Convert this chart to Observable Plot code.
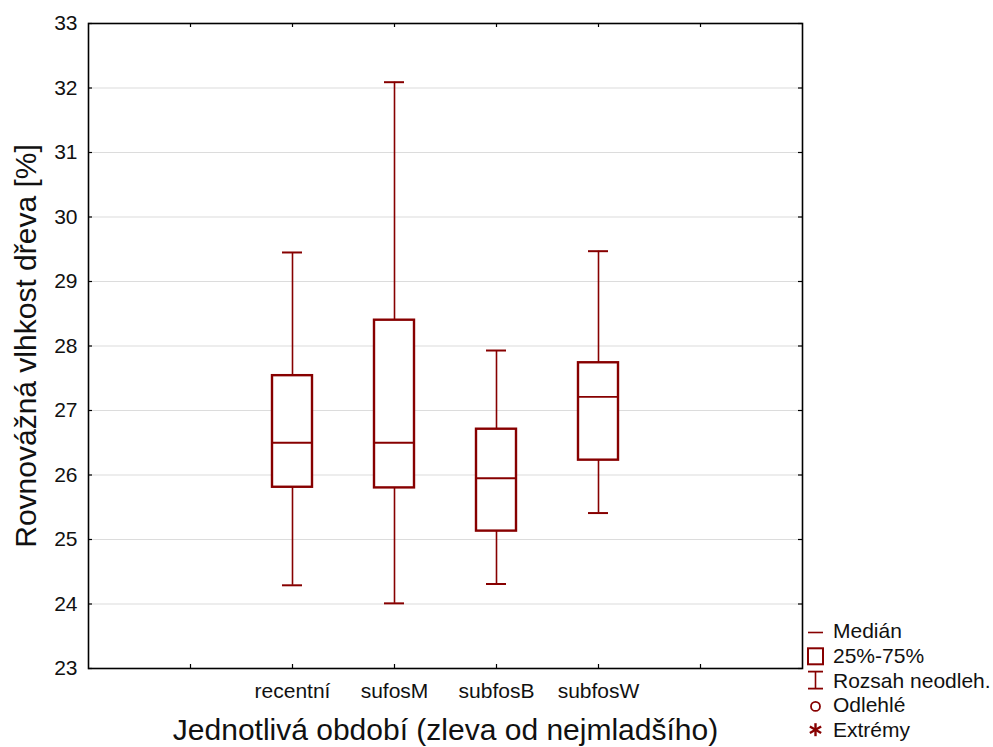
<!DOCTYPE html>
<html><head><meta charset="utf-8">
<script src="https://cdn.jsdelivr.net/npm/d3@7"></script>
<script src="https://cdn.jsdelivr.net/npm/@observablehq/plot@0.6"></script>
<style>
body{margin:0;background:#fff;font-family:"Liberation Sans",Arial,sans-serif;}
#wrap{position:relative;width:993px;height:747px;}
#legend{position:absolute;left:800px;top:615px;}
</style></head><body><div id="wrap"></div>
<script>
const categories = ["recentní", "sufosM", "subfosB", "subfosW"];
const whiskerLow = [24.29, 24.01, 24.31, 25.41];
const q1 = [25.81, 25.80, 25.13, 26.23];
const median = [26.50, 26.50, 25.95, 27.21];
const q3 = [27.54, 28.40, 26.71, 27.74];
const whiskerHigh = [29.45, 32.09, 27.93, 29.47];
const yTicks = [23, 24, 25, 26, 27, 28, 29, 30, 31, 32, 33];
const xSlots = [1, 2, 3, 4, 5, 6];
const firstSlot = 2;
const legendLabels = ["Medián", "25%-75%", "Rozsah neodleh.", "Odlehlé", "Extrémy"];
const xTitle = "Jednotlivá období (zleva od nejmladšího)";
const yTitle = "Rovnovážná vlhkost dřeva [%]";

const W = 993, H = 747, mL = 88, mR = 191, mT = 23, mB = 79;
const plotW = W - mL - mR, plotH = H - mT - mB;
const red = "#870000";
const font = "Liberation Sans, Arial, sans-serif";

const data = categories.map((c, i) => ({
  cat: c, pos: i + firstSlot, lo: whiskerLow[i], q1: q1[i], med: median[i], q3: q3[i], hi: whiskerHigh[i]
}));

const chart = Plot.plot({
  width: W, height: H,
  marginLeft: mL, marginRight: mR, marginTop: mT, marginBottom: mB,
  style: {fontFamily: font, background: "white", color: "#111"},
  x: {domain: [0, 7]},
  y: {domain: [23, 33]},
  marks: [
    Plot.gridY(yTicks, {stroke: "#dcdcdc", strokeOpacity: 1, strokeWidth: 1.2}),
    // whiskers
    Plot.ruleX(data, {x: "pos", y1: "q3", y2: "hi", stroke: red, strokeWidth: 1.6}),
    Plot.ruleX(data, {x: "pos", y1: "lo", y2: "q1", stroke: red, strokeWidth: 1.6}),
    Plot.ruleY(data, {y: "hi", x1: "pos", x2: "pos", insetLeft: -10, insetRight: -10, stroke: red, strokeWidth: 2}),
    Plot.ruleY(data, {y: "lo", x1: "pos", x2: "pos", insetLeft: -10, insetRight: -10, stroke: red, strokeWidth: 2}),
    // boxes
    Plot.rect(data, {x1: "pos", x2: "pos", y1: "q1", y2: "q3", insetLeft: -20, insetRight: -20, fill: "white", stroke: red, strokeWidth: 2.4}),
    Plot.ruleY(data, {y: "med", x1: "pos", x2: "pos", insetLeft: -20, insetRight: -20, stroke: red, strokeWidth: 1.8}),
    // inward ticks
    Plot.tickX(xSlots, {x: d => d, insetTop: plotH - 4, stroke: "black", strokeWidth: 1.2}),
    Plot.tickX(xSlots, {x: d => d, insetBottom: plotH - 4, stroke: "black", strokeWidth: 1.2}),
    Plot.tickY(yTicks, {y: d => d, insetRight: plotW - 4, stroke: "black", strokeWidth: 1.2}),
    Plot.tickY(yTicks, {y: d => d, insetLeft: plotW - 4, stroke: "black", strokeWidth: 1.2}),
    Plot.frame({stroke: "black", strokeWidth: 1.6}),
    Plot.axisX({ticks: data.map(d => d.pos), tickFormat: d => categories[d - firstSlot], tickSize: 0, tickPadding: 15, fontSize: 21, label: null}),
    Plot.axisY({ticks: yTicks, tickSize: 0, tickPadding: 11, fontSize: 21, label: null}),
    Plot.text([xTitle], {text: d => d, frameAnchor: "bottom", dy: 62, lineAnchor: "middle", textAnchor: "middle", fontSize: 30}),
    Plot.text([yTitle], {text: d => d, frameAnchor: "left", rotate: -90, dx: -62, lineAnchor: "middle", textAnchor: "middle", fontSize: 30})
  ]
});
document.getElementById("wrap").appendChild(chart);

// legend (HTML overlay)
const lg = d3.select("#wrap").append("svg").attr("id", "legend").attr("width", 193).attr("height", 132)
  .style("font-family", font);
const rowY = legendLabels.map((_, i) => 23 + i * 24.8);
lg.selectAll("text").data(legendLabels).join("text")
  .attr("x", 33).attr("y", (d, i) => rowY[i]).attr("font-size", 21).attr("fill", "#111").text(d => d);
const sym = lg.append("g").attr("stroke", red).attr("fill", "none");
sym.append("line").attr("x1", 8).attr("x2", 23).attr("y1", rowY[0] - 5.5).attr("y2", rowY[0] - 5.5).attr("stroke-width", 1.6);
sym.append("rect").attr("x", 8).attr("y", rowY[1] - 14.5).attr("width", 15).attr("height", 16).attr("stroke-width", 2);
const cy = rowY[2] - 7.5;
sym.append("line").attr("x1", 8).attr("x2", 23).attr("y1", cy - 8.5).attr("y2", cy - 8.5).attr("stroke-width", 1.8);
sym.append("line").attr("x1", 8).attr("x2", 23).attr("y1", cy + 8.5).attr("y2", cy + 8.5).attr("stroke-width", 1.8);
sym.append("line").attr("x1", 15.5).attr("x2", 15.5).attr("y1", cy - 8.5).attr("y2", cy + 8.5).attr("stroke-width", 1.6);
sym.append("circle").attr("cx", 15.5).attr("cy", rowY[3] - 6).attr("r", 4.5).attr("stroke-width", 1.8);
const ay = rowY[4] - 7.5;
[0, 60, 120].forEach(a => {
  const r = a * Math.PI / 180, dx = 6.5 * Math.sin(r), dy = 6.5 * Math.cos(r);
  sym.append("line").attr("x1", 15.5 - dx).attr("x2", 15.5 + dx).attr("y1", ay - dy).attr("y2", ay + dy).attr("stroke-width", 2.4);
});
</script></body></html>
